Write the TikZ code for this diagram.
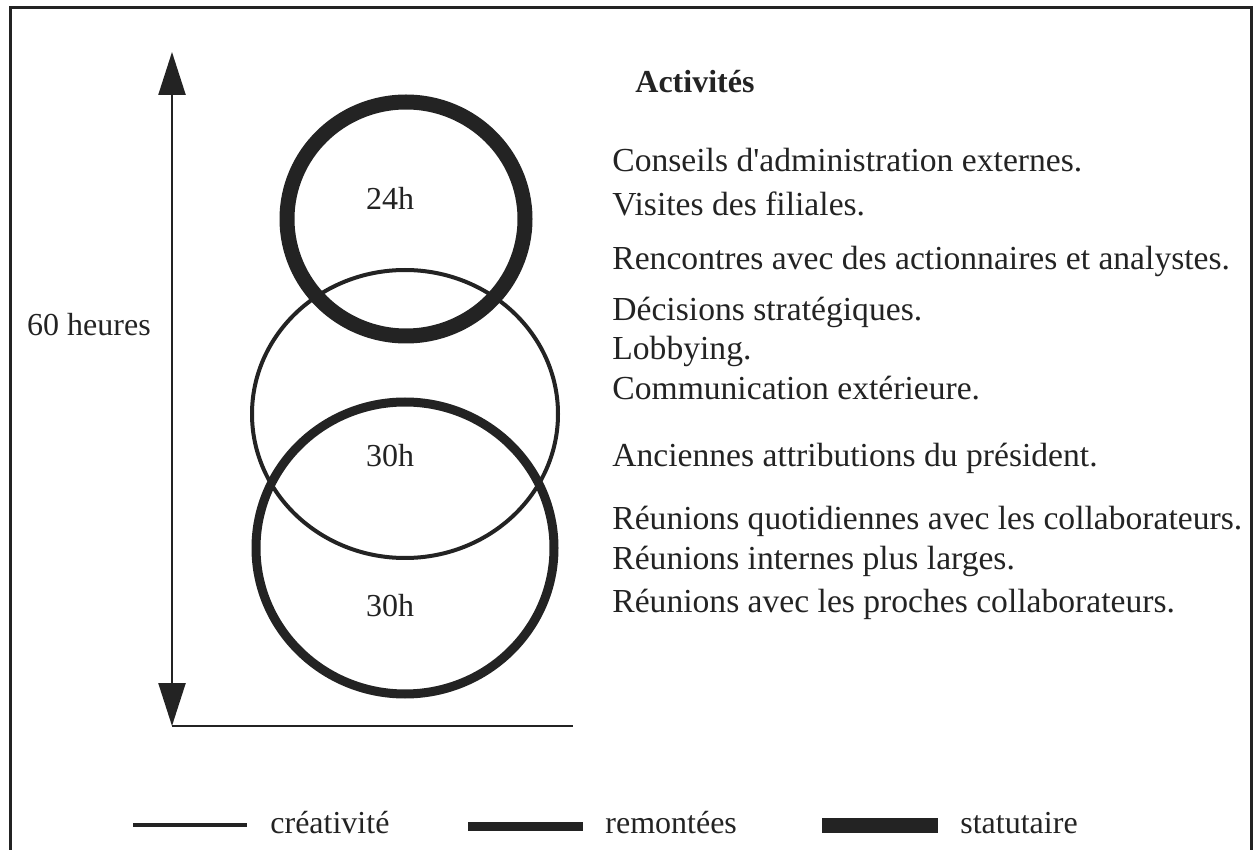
\documentclass[tikz,border=0pt]{standalone}
\usepackage{fontspec}
\setmainfont{Liberation Serif}
\usetikzlibrary{arrows.meta}
\definecolor{ink}{RGB}{35,35,35}
\begin{document}
\begin{tikzpicture}[x=0.5pt,y=-0.5pt,
  txt/.style={anchor=base west,inner sep=0pt,text=ink,font=\fontsize{16.8}{20}\selectfont},
  lbl/.style={anchor=base,inner sep=0pt,text=ink,font=\fontsize{16}{19}\selectfont},
  thinline/.style={draw=ink,line width=2pt},
  medline/.style={draw=ink,line width=4.5pt},
  thickline/.style={draw=ink,line width=7.5pt},
  axis/.style={draw=ink,line width=1.2pt}]
\useasboundingbox (0,0) rectangle (1255,850);
% frame
\draw[ink,line width=1.5pt] (10,852) -- (10,8) -- (1251,8) -- (1251,852);
% axis
\coordinate (atop) at (172,52);
\coordinate (abot) at (172,726);
\coordinate (hend) at (573,726);
\draw[axis,-{Triangle[width=13.5pt,length=21.5pt]}] (172,389) -- (atop);
\draw[axis,-{Triangle[width=13.5pt,length=21.5pt]}] (172,389) -- (abot);
\draw[axis] (abot) -- (hend);
\node[lbl] (h60) at (89,336) {60 heures};
% circles
\draw[thinline] (405,414) ellipse [x radius=76.5pt, y radius=72pt];
\draw[medline] (405,548) ellipse [x radius=74.5pt, y radius=73pt];
\draw[thickline] (406,219) ellipse [x radius=59.5pt, y radius=58.5pt];
\node[lbl] (c24) at (390,210) {24h};
\node[lbl] (c30a) at (390,467) {30h};
\node[lbl] (c30b) at (390,617) {30h};
% activities
\node[txt,font=\fontsize{16}{19}\selectfont\bfseries] (act) at (635,93) {Activités};
\node[txt] (t1) at (612,172) {Conseils d\textquotesingle administration externes.};
\node[txt] (t2) at (612,216) {Visites des filiales.};
\node[txt] (t3) at (612,270) {Rencontres avec des actionnaires et analystes.};
\node[txt] (t4) at (612,321) {Décisions stratégiques.};
\node[txt] (t5) at (612,360) {Lobbying.};
\node[txt] (t6) at (612,400) {Communication extérieure.};
\node[txt] (t7) at (612,467) {Anciennes attributions du président.};
\node[txt] (t8) at (612,530) {Réunions quotidiennes avec les collaborateurs.};
\node[txt] (t9) at (612,570) {Réunions internes plus larges.};
\node[txt] (t10) at (612,613) {Réunions avec les proches collaborateurs.};
% legend
\coordinate (l1a) at (133,825); \coordinate (l1b) at (247,825);
\coordinate (l2a) at (468,826); \coordinate (l2b) at (583,826);
\coordinate (l3a) at (822,825); \coordinate (l3b) at (938,825);
\draw[thinline] (l1a) -- (l1b);
\draw[medline] (l2a) -- (l2b);
\draw[thickline] (l3a) -- (l3b);
\node[txt,font=\fontsize{16}{19}\selectfont] (lg1) at (270,833) {créativité};
\node[txt,font=\fontsize{16}{19}\selectfont] (lg2) at (605,833) {remontées};
\node[txt,font=\fontsize{16}{19}\selectfont] (lg3) at (960,833) {statutaire};
\end{tikzpicture}
\end{document}
